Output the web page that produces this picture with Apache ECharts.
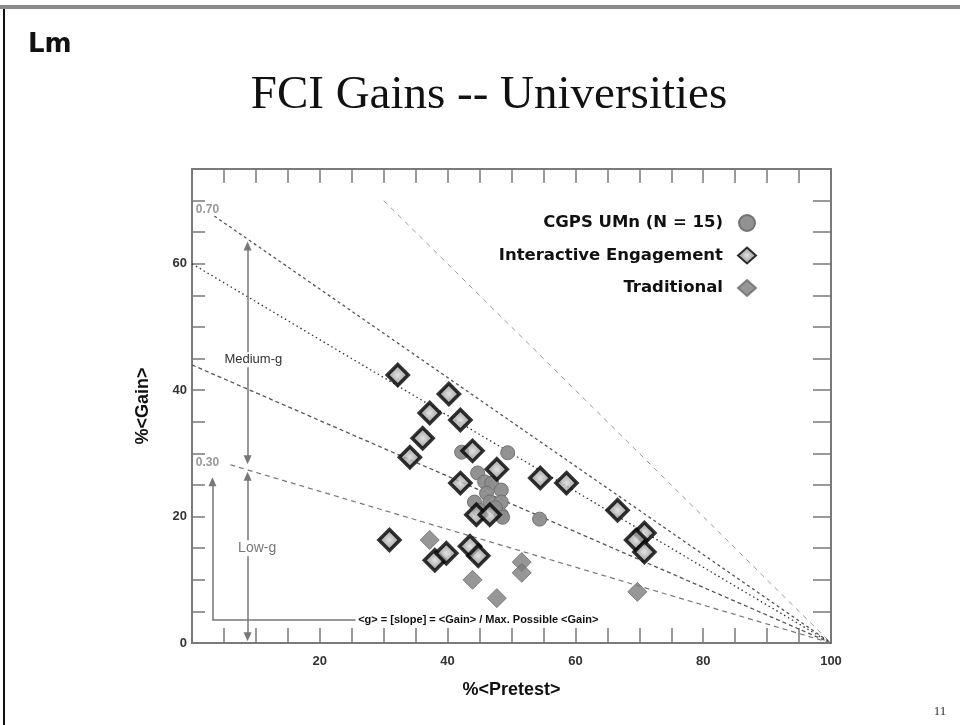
<!DOCTYPE html>
<html><head><meta charset="utf-8">
<script src="https://cdn.jsdelivr.net/npm/echarts/dist/echarts.min.js"></script>
<style>html,body{margin:0;padding:0;background:#fff}#c{width:960px;height:725px}</style>
</head><body><div id="c"></div>
<script>
// ---- data ----
const iePretest = [32.2,40.2,37.2,42.0,36.1,34.1,43.9,47.7,42.0,54.5,58.6,66.6,70.8,69.5,70.8,30.9,38.0,39.8,43.5,44.8,44.5,46.6];
const ieGain    = [42.4,39.4,36.4,35.3,32.4,29.4,30.4,27.5,25.3,26.1,25.3,21.0,17.4,16.3,14.4,16.3,13.1,14.2,15.3,13.8,20.3,20.3];
const tradPretest = [37.2,43.9,47.7,51.6,51.6,69.7];
const tradGain    = [16.3,10.0,7.1,12.8,11.1,8.1];
const cgpsPretest = [42.2,49.4,54.4,44.7,45.8,46.9,48.4,46.1,44.2,46.6,48.4,45.0,48.4,47.5,48.6];
const cgpsGain    = [30.2,30.1,19.6,26.9,25.5,25.3,24.2,23.7,22.3,22.3,22.3,21.0,20.3,21.4,19.9];
const gLineValues = [1.00, 0.70, 0.60, 0.44, 0.30];
const gLineStartX = [30, 3.5, 0, 0, 6];
const xTickLabels = [20, 40, 60, 80, 100];
const yTickLabels = [0, 20, 40, 60];
const seriesNames = ['CGPS UMn (N = 15)', 'Interactive Engagement', 'Traditional'];

const zip = (a, b) => a.map((v, i) => [v, b[i]]);
const lineStyles = [
  {color:'#9a9a9a', width:1, type:[5,5]},
  {color:'#555', width:1.3, type:[3,3]},
  {color:'#333', width:1.3, type:[1.5,3]},
  {color:'#555', width:1.3, type:[4,3]},
  {color:'#777', width:1.2, type:[5,4]}
];
const gSeries = gLineValues.map((g, i) => ({
  type:'line', silent:true, symbol:'none', z:1,
  data:[[gLineStartX[i], g*(100-gLineStartX[i])],[100,0]],
  lineStyle:lineStyles[i]
}));

const FONT = 'Liberation Sans, Arial, sans-serif';
const chart = echarts.init(document.getElementById('c'), null, {renderer:'canvas'});
const axisLineStyle = {color:'#7a7a7a', width:2};
const tickStyle = {color:'#7a7a7a', width:1.5};
const ieFill = new echarts.graphic.RadialGradient(0.5, 0.5, 0.5, [
  {offset:0, color:'#dcdcdc'}, {offset:0.45, color:'#a8a8a8'}, {offset:1, color:'#909090'}]);
chart.setOption({
  animation:false,
  backgroundColor:'#fff',
  grid:{left:192, right:129, top:169, bottom:82, containLabel:false},
  xAxis:[
    {type:'value', min:0, max:100, interval:5, position:'bottom',
     axisLine:{onZero:false, lineStyle:axisLineStyle}, axisTick:{inside:true, length:15, lineStyle:tickStyle},
     splitLine:{show:false},
     axisLabel:{margin:12, color:'#333', fontFamily:FONT, fontWeight:'bold', fontSize:13,
       formatter:v => xTickLabels.includes(v) ? String(v) : ''},
     name:'%<Pretest>', nameLocation:'middle', nameGap:38,
     nameTextStyle:{fontFamily:FONT, fontWeight:'bold', fontSize:18, color:'#111'}},
    {type:'value', min:0, max:100, interval:5, position:'top',
     axisLine:{onZero:false, lineStyle:axisLineStyle}, axisTick:{inside:true, length:14, lineStyle:tickStyle},
     axisLabel:{show:false}, splitLine:{show:false}}
  ],
  yAxis:[
    {type:'value', min:0, max:75, interval:5, position:'left',
     axisLine:{onZero:false, lineStyle:axisLineStyle}, axisTick:{inside:true, length:13, lineStyle:tickStyle},
     splitLine:{show:false},
     axisLabel:{margin:5, color:'#333', fontFamily:FONT, fontWeight:'bold', fontSize:13,
       formatter:v => yTickLabels.includes(v) ? String(v) : ''},
     name:'%<Gain>', nameLocation:'middle', nameGap:40, nameRotate:90,
     nameTextStyle:{fontFamily:FONT, fontWeight:'bold', fontSize:18, color:'#111'}},
    {type:'value', min:0, max:75, interval:5, position:'right',
     axisLine:{onZero:false, lineStyle:axisLineStyle}, axisTick:{inside:true, length:18, lineStyle:tickStyle},
     axisLabel:{show:false}, splitLine:{show:false}}
  ],
  legend:{
    orient:'vertical', align:'right', right:203, top:214, itemGap:14.5, padding:0,
    itemWidth:18, itemHeight:16,
    textStyle:{fontFamily:'DejaVu Sans', fontWeight:'bold', fontSize:16.5, color:'#111', padding:[0,10,0,0]},
    data:seriesNames
  },
  graphic:[
    {type:'rect', shape:{x:0, y:5, width:960, height:4}, style:{fill:'#8a8a8a'}},
    {type:'rect', shape:{x:3, y:9, width:2, height:716}, style:{fill:'#111'}},
    {type:'text', x:28, y:32, style:{text:'Lm', fontFamily:'DejaVu Sans', fontWeight:'bold', fontSize:26, fill:'#111'}},
    {type:'text', x:489, y:96, style:{text:'FCI Gains -- Universities', fontFamily:'Liberation Serif', fontSize:47, fill:'#111', textAlign:'center', textVerticalAlign:'middle'}},
    {type:'text', x:940, y:712, style:{text:'11', fontFamily:'Liberation Serif', fontSize:13, fill:'#333', textAlign:'center', textVerticalAlign:'middle'}}
  ],
  series:[
    ...gSeries,
    {type:'line', silent:true, symbol:'none', data:[], z:2,
     markLine:{silent:true, symbol:['none','none'], label:{show:false},
       lineStyle:{color:'#777', width:1.5, type:'solid'},
       data:[
         [{coord:[8.7,29.0], symbol:'triangle', symbolSize:[8,9], symbolRotate:180},{coord:[8.7,62.8], symbol:'triangle', symbolSize:[8,9]}],
         [{coord:[8.7,26.4], symbol:'triangle', symbolSize:[8,9]},{coord:[8.7,1.0], symbol:'triangle', symbolSize:[8,9], symbolRotate:180}],
         [{coord:[3.2,3.6], symbol:'none'},{coord:[3.2,25.5], symbol:'triangle', symbolSize:[8,9]}],
         [{coord:[3.2,3.6], symbol:'none'},{coord:[25.6,3.6], symbol:'none'}]
       ],
       itemStyle:{color:'#333'}},
     markPoint:{silent:true, symbol:'rect', symbolSize:0,
       data:[
         {coord:[9.6,44.8], value:'Medium-g', label:{color:'#333', fontSize:13, backgroundColor:'#fff', padding:[1,2]}},
         {coord:[10.2,15.0], value:'Low-g', label:{color:'#777', fontSize:14, backgroundColor:'#fff', padding:[1,2]}},
         {coord:[0.6,68.6], value:'0.70', label:{color:'#999', fontSize:12, fontWeight:'bold', align:'left', backgroundColor:'#fff'}},
         {coord:[0.6,28.6], value:'0.30', label:{color:'#999', fontSize:12, fontWeight:'bold', align:'left', backgroundColor:'#fff'}},
         {coord:[26.0,3.6], value:'<g> = [slope] = <Gain> / Max. Possible <Gain>', label:{color:'#111', fontSize:11, fontWeight:'bold', align:'left'}}
       ],
       label:{show:true, position:'inside', fontFamily:FONT, formatter:p => p.value}}
    },
    {name:seriesNames[0], type:'scatter', z:3, symbol:'circle', symbolSize:14,
     data:zip(cgpsPretest, cgpsGain),
     itemStyle:{color:'#8c8c8c', borderColor:'#6f6f6f', borderWidth:1, opacity:0.95}},
    {name:seriesNames[2], type:'scatter', z:4, symbol:'diamond', symbolSize:19,
     data:zip(tradPretest, tradGain),
     itemStyle:{color:'#7d7d7d', borderColor:'#6a6a6a', borderWidth:1}},
    {name:seriesNames[1], type:'scatter', z:5, symbol:'diamond', symbolSize:21,
     data:zip(iePretest, ieGain),
     itemStyle:{color:ieFill, borderColor:'#000', borderWidth:3.5}}
  ]
});
</script></body></html>
